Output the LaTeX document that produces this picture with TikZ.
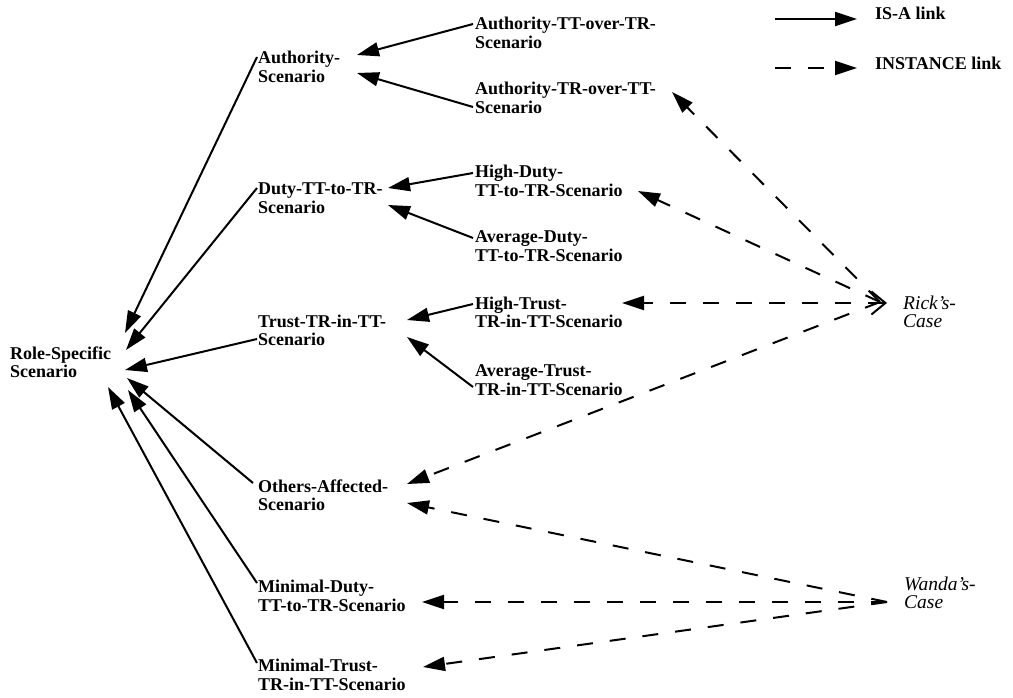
\documentclass[tikz,border=0pt]{standalone}
\usepackage{fontspec}
\setmainfont{Liberation Serif}
\usetikzlibrary{arrows.meta,calc}
\begin{document}
\begin{tikzpicture}[x=1pt,y=-1pt,
  lbl/.style={anchor=base west,align=left,inner sep=0pt,font=\fontsize{18}{18.5}\selectfont\bfseries},
  case/.style={anchor=base west,align=left,inner sep=0pt,font=\fontsize{19.5}{18.5}\selectfont\itshape},
  tipA/.style={-{Triangle[length=22pt,width=14pt]}},
  isa/.style={line width=2pt,tipA},
  inst/.style={line width=2pt,dash pattern=on 16pt off 17pt,tipA},
]
\useasboundingbox (0,0) rectangle (1013,698);

% nodes (base west = baseline of the last line)
\node[lbl] (role) at (10,377.5) {Role-Specific\\Scenario};
\node[lbl] (auth) at (258,82.5) {Authority-\\Scenario};
\node[lbl] (duty) at (258,213.5) {Duty-TT-to-TR-\\Scenario};
\node[lbl] (trust) at (258,345.5) {Trust-TR-in-TT-\\Scenario};
\node[lbl] (others) at (258,510.5) {Others-Affected-\\Scenario};
\node[lbl] (minduty) at (258,611.2) {Minimal-Duty-\\TT-to-TR-Scenario};
\node[lbl] (mintrust) at (258,690.2) {Minimal-Trust-\\TR-in-TT-Scenario};
\node[lbl] (attr) at (475,48.5) {Authority-TT-over-TR-\\Scenario};
\node[lbl] (atrt) at (475,113.5) {Authority-TR-over-TT-\\Scenario};
\node[lbl] (hd) at (475,196.5) {High-Duty-\\TT-to-TR-Scenario};
\node[lbl] (ad) at (475,261.5) {Average-Duty-\\TT-to-TR-Scenario};
\node[lbl] (ht) at (475,327.5) {High-Trust-\\TR-in-TT-Scenario};
\node[lbl] (at) at (475,395.2) {Average-Trust-\\TR-in-TT-Scenario};
\node[case] (rick) at (903,327.8) {Rick's-\\Case};
\node[case] (wanda) at (904,608.5) {Wanda's-\\Case};
\node[lbl] (isal) at (875,20) {IS-A link};
\node[lbl] (instl) at (875,70) {INSTANCE link};

% IS-A links
\draw[isa] ([shift={(-1,-25.5)}]auth.base west) -- ([shift={(115,-44.5)}]role.base west);
\draw[isa] ([shift={(-1,-25.5)}]duty.base west) -- ([shift={(116,-27.5)}]role.base west);
\draw[isa] ([shift={(-1,-6.5)}]trust.base west) -- ([shift={(115,-7.5)}]role.base west);
\draw[isa] ([shift={(-5,-27.5)}]others.base west) -- ([shift={(117,0.5)}]role.base west);
\draw[isa] ([shift={(-1,-28.2)}]minduty.base west) -- ([shift={(118,12.5)}]role.base west);
\draw[isa] ([shift={(-1,-27.2)}]mintrust.base west) -- ([shift={(98,9.5)}]role.base west);
\draw[isa] ([shift={(-2,-24.5)}]attr.base west) -- ([shift={(99,-27.5)}]auth.base west);
\draw[isa] ([shift={(-2,-6.5)}]atrt.base west) -- ([shift={(99,-9.5)}]auth.base west);
\draw[isa] ([shift={(-2,-23.5)}]hd.base west) -- ([shift={(130,-25.5)}]duty.base west);
\draw[isa] ([shift={(-2,-23.5)}]ad.base west) -- ([shift={(130,-8.5)}]duty.base west);
\draw[isa] ([shift={(-2,-23.5)}]ht.base west) -- ([shift={(149,-25.5)}]trust.base west);
\draw[isa] ([shift={(-2,-8.2)}]at.base west) -- ([shift={(149,-8.5)}]trust.base west);

% INSTANCE links
\coordinate (rp) at ([shift={(-23,-25.8)}]rick.base west);
\coordinate (wp) at ([shift={(-17,-6.5)}]wanda.base west);
\draw[inst] (rp) -- ([shift={(197,-21.5)}]atrt.base west);
\draw[inst] (rp) -- ([shift={(163,-5.5)}]hd.base west);
\draw[inst,{Straight Barb[length=14pt,width=23pt]}-{Triangle[length=22pt,width=14pt]}]
  ([shift={(-16,-24.8)}]rick.base west) -- ([shift={(147,-24.5)}]ht.base west);
\draw[inst] (rp) -- ([shift={(149,-26.5)}]others.base west);
\draw[inst] (wp) -- ([shift={(149,-7.5)}]others.base west);
\draw[inst] (wp) -- ([shift={(164,-9.2)}]minduty.base west);
\draw[inst] (wp) -- ([shift={(165,-23.2)}]mintrust.base west);

% legend
\draw[isa] ([shift={(-100,-1)}]isal.base west) -- ([shift={(-18,-1)}]isal.base west);
\draw[inst] ([shift={(-100,-2)}]instl.base west) -- ([shift={(-18,-2)}]instl.base west);
\end{tikzpicture}
\end{document}
